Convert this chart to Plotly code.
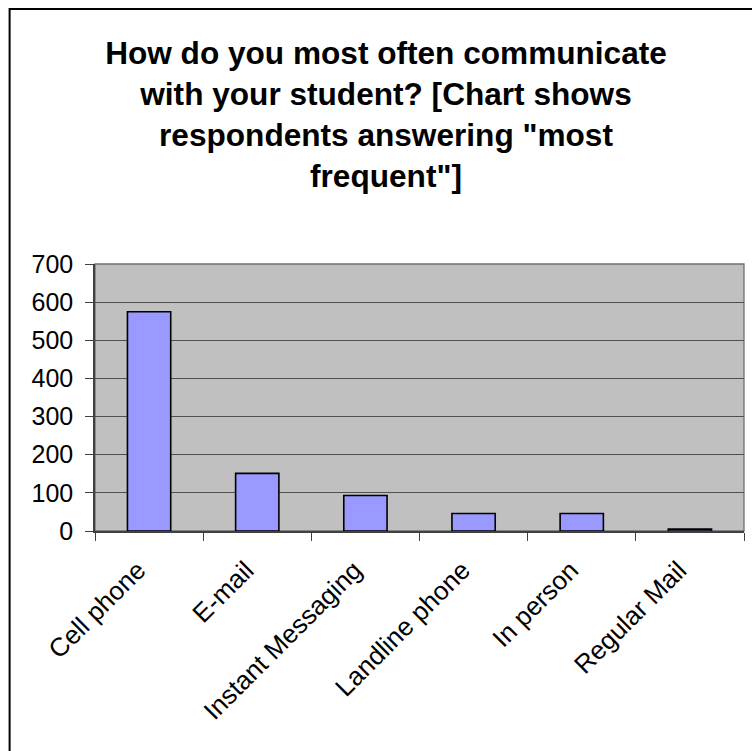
import plotly.graph_objects as go

# Survey responses: channel named "most frequent" for contacting the student
categories = ["Cell phone", "E-mail", "Instant Messaging", "Landline phone", "In person", "Regular Mail"]
respondents = [575, 151, 93, 46, 46, 5]
y_ticks = [0, 100, 200, 300, 400, 500, 600, 700]

title_text = ("How do you most often communicate<br>with your student? [Chart shows<br>"
              "respondents answering \"most<br>frequent\"]")

W, H = 752, 751
L, R, T, B = 94.5, 7.7, 264, 219.5
pw, ph = W - L - R, H - T - B


def px_to_paper_x(px):
    return (px - L) / pw


def px_to_paper_y(py):
    return (H - B - py) / ph


fig = go.Figure(
    go.Bar(
        x=categories,
        y=respondents,
        width=0.4,
        marker=dict(color="#9999FF", line=dict(color="#000000", width=1.6)),
        hoverinfo="x+y",
    )
)

fig.update_layout(
    width=W,
    height=H,
    margin=dict(l=L, r=R, t=T, b=B, pad=0),
    paper_bgcolor="#FFFFFF",
    plot_bgcolor="#C0C0C0",
    showlegend=False,
    font=dict(family="Liberation Sans, Arial, sans-serif", color="#000000"),
    title=dict(
        text=title_text,
        x=386 / W,
        xanchor="center",
        y=1 - 64 / H,
        yanchor="top",
        font=dict(size=31.6, color="#000000", family="Liberation Sans, Arial, sans-serif", weight="bold"),
    ),
    xaxis=dict(
        type="category",
        tickangle=-45,
        tickson="boundaries",
        ticks="outside",
        ticklen=8,
        tickcolor="#404040",
        tickwidth=1.3,
        showline=True,
        linecolor="#404040",
        linewidth=1.5,
        showgrid=False,
        tickfont=dict(size=26),
        ticklabelshift=-11,
        ticklabelstandoff=12,
    ),
    yaxis=dict(
        range=[0, 700],
        tickvals=y_ticks,
        ticks="outside",
        ticklen=8,
        tickcolor="#404040",
        tickwidth=1.3,
        showline=True,
        linecolor="#404040",
        linewidth=1.5,
        showgrid=True,
        gridcolor="#505050",
        gridwidth=1.2,
        zeroline=False,
        tickfont=dict(size=25),
        ticklabelstandoff=7,
    ),
    shapes=[
        # plot-area frame (top and right edges)
        dict(type="rect", xref="paper", yref="paper", x0=0, x1=1, y0=0, y1=1,
             line=dict(color="#707070", width=1.3), layer="below"),
        # outer chart border
        dict(type="rect", xref="paper", yref="paper",
             x0=px_to_paper_x(9), x1=px_to_paper_x(800),
             y0=px_to_paper_y(800), y1=px_to_paper_y(8.5),
             line=dict(color="#000000", width=2), layer="above"),
    ],
)

fig.write_html("out.html")
